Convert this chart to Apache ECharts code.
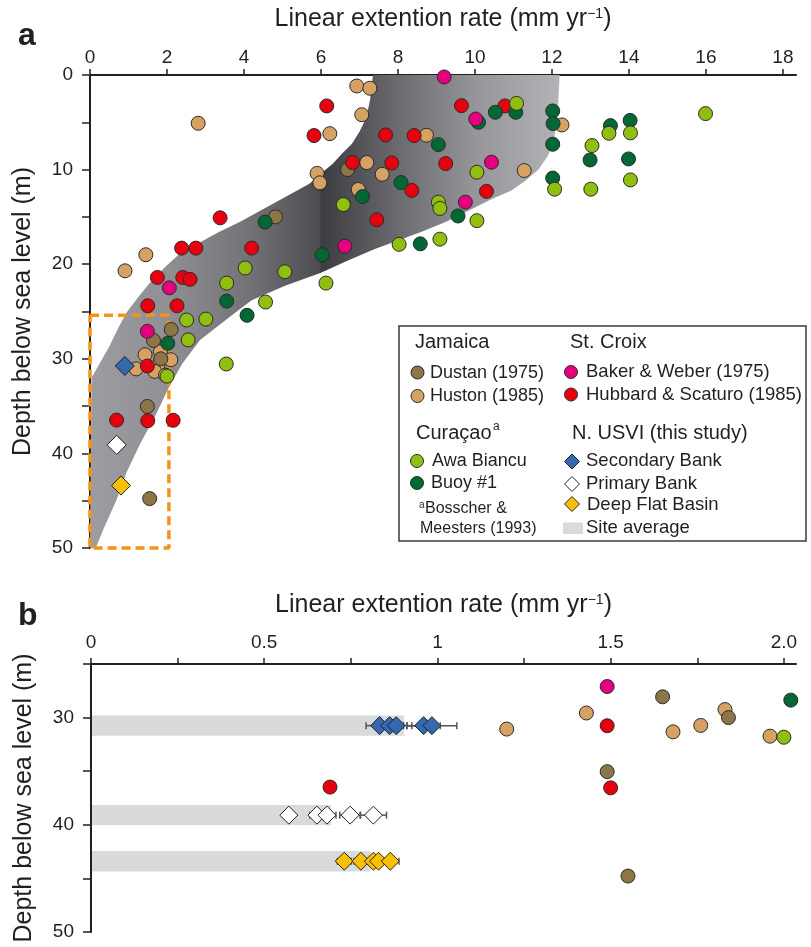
<!DOCTYPE html>
<html>
<head>
<meta charset="utf-8">
<title>Linear extension rate vs depth</title>
<script src="https://cdn.jsdelivr.net/npm/echarts@6/dist/echarts.min.js"></script>
<style>
  html, body { margin: 0; padding: 0; background: #fff; }
  #main { width: 811px; height: 947px; }
</style>
</head>
<body>
<div id="main"></div>
<script>
// ---- data: [linear extension (mm/yr), depth (m)] ----
var dustan = [[6.69,10.0],[4.82,15.0],[2.11,26.9],[1.65,28.06],[1.84,30.0],[1.49,35.04],[1.55,44.78]];
var huston = [[6.93,1.16],[7.27,1.4],[2.81,5.1],[7.06,4.2],[6.23,6.2],[7.19,9.26],[5.9,10.4],[5.97,11.4],
  [7.59,10.5],[6.97,12.1],[1.45,19.0],[0.91,20.7],[12.26,5.28],[8.74,6.37],[11.28,10.1],[1.43,29.57],
  [1.83,29.25],[2.1,30.1],[1.76,30.73],[1.68,31.33],[1.2,31.07],[1.96,31.73]];
var baker = [[9.2,0.21],[10.02,4.65],[10.43,9.22],[9.75,13.44],[6.62,18.1],[2.06,22.5],[1.49,27.1]];
var hubbard = [[6.15,3.27],[9.65,3.24],[10.78,3.27],[5.82,6.4],[7.68,6.34],[8.42,6.4],[6.82,9.26],[7.84,9.3],
  [9.24,9.36],[8.36,12.2],[10.3,12.3],[3.38,15.1],[7.45,15.3],[2.38,18.3],[2.75,18.3],[4.2,18.3],[1.75,21.4],
  [2.41,21.4],[2.6,21.6],[1.5,24.4],[2.26,24.4],[1.49,30.76],[0.69,36.48],[1.5,36.55],[2.16,36.5]];
var awa = [[11.08,3.0],[15.99,4.08],[14.04,6.12],[13.48,6.16],[13.04,7.46],[10.05,10.28],[14.04,11.09],
  [12.07,12.07],[13.01,12.07],[9.05,13.44],[6.58,13.7],[9.09,14.1],[10.05,15.4],[9.09,17.35],[8.03,17.9],
  [4.03,20.4],[5.06,20.8],[3.55,22.0],[6.13,22.0],[4.56,24.0],[3.01,25.8],[2.51,25.9],[2.55,28.0],
  [3.54,30.55],[2.0,31.83]];
var buoy = [[12.02,3.8],[10.53,3.94],[11.06,3.94],[14.03,4.8],[10.09,5.0],[12.03,5.14],[13.52,5.35],
  [12.02,7.32],[9.05,7.36],[13.99,8.87],[12.99,8.98],[12.02,10.9],[8.08,11.37],[7.08,12.85],[9.56,14.9],
  [4.55,15.55],[8.58,17.85],[6.03,19.0],[3.55,23.9],[4.08,25.4],[2.02,28.37]];

// N. USVI sites: secondary bank, primary bank, deep flat basin
var siteAvg = [0.904, 0.693, 0.806];
var siteDepth = [30.75, 39.1, 43.4];
var secondaryX = [0.833, 0.862, 0.881, 0.96, 0.984];
var secondaryErr = [0.039, 0.04, 0.045, 0.048, 0.072];
var primaryX = [0.571, 0.652, 0.681, 0.748, 0.815];
var primaryErr = [0.01, 0.02, 0.026, 0.03, 0.038];
var deepX = [0.731, 0.779, 0.815, 0.83, 0.864];
var deepErr = [0.02, 0.02, 0.025, 0.03, 0.025];

// grey envelope of previous studies
var bandRightDepth = [0, 4, 7, 8.5, 10, 11.2, 12.2, 13.2, 14.5, 15.5, 16.6, 17.5, 18.4, 19.6, 20.9, 22.3, 23.8, 25.5, 28, 30.5, 33, 36, 39, 42, 45, 48, 50];
var bandRightX = [12.2, 12.15, 12.05, 11.9, 11.65, 11.3, 10.95, 10.4, 9.75, 9.25, 8.6, 8.0, 7.4, 6.7, 6.0, 5.05, 4.2, 3.65, 2.86, 2.4, 2.05, 1.7, 1.3, 0.95, 0.68, 0.35, 0.15];
var bandLeftDepth = [0, 2.5, 4.5, 6, 7.3, 8.3, 9.4, 10.4, 11.5, 12.5, 13.5, 14.5, 15.5, 16.6, 17.8, 19, 20.3, 22, 23.5, 25.1, 26.6, 28.7, 30.5, 32, 50];
var bandLeftX = [7.35, 7.28, 7.18, 7.0, 6.8, 6.55, 6.3, 6.0, 5.7, 5.25, 4.8, 4.35, 3.9, 3.35, 2.8, 2.3, 1.95, 1.55, 1.25, 0.95, 0.75, 0.5, 0.25, 0.04, 0];

// dashed box = extent of panel b
var zoomBoxX = [0, 2.05];
var zoomBoxDepth = [25.4, 50];

// ticks
var xTicksA = [0, 2, 4, 6, 8, 10, 12, 14, 16, 18];
var yTicksA = [0, 5, 10, 15, 20, 25, 30, 35, 40, 45, 50];
var yLabelsA = [0, 10, 20, 30, 40, 50];
var xTicksB = [0, 0.25, 0.5, 0.75, 1, 1.25, 1.5, 1.75, 2];
var xLabelsB = [0, 0.5, 1, 1.5, 2];
var yTicksB = [25, 30, 35, 40, 45, 50];
var yLabelsB = [30, 40, 50];

var FONT = '"Liberation Sans", Arial, Helvetica, sans-serif';
var INK = '#231f20';
var C = {
  dustan: '#8c7547', huston: '#d5a263', baker: '#e5007f', hubbard: '#e8000f',
  awa: '#91bf0f', buoy: '#006834', secondary: '#3667b1', primary: '#ffffff', deep: '#fac000', avg: '#d9dadb'
};

var chart = echarts.init(document.getElementById('main'));

function axisX(idx, max, ticks, labels, gap, margin, fmt) {
  return {
    type: 'value', gridIndex: idx, position: 'top', min: 0, max: max,
    name: 'Linear extention rate (mm yr{sup|\u22121})', nameLocation: 'middle', nameGap: gap,
    nameTextStyle: { color: INK, fontSize: 25, fontFamily: FONT,
      rich: { sup: { fontSize: 14, verticalAlign: 'top', color: INK, fontFamily: FONT } } },
    axisLine: { show: true, lineStyle: { color: INK, width: 2 } },
    axisTick: { show: true, length: 6, customValues: ticks, lineStyle: { color: INK, width: 1.5 } },
    axisLabel: { customValues: labels, margin: margin, color: INK, fontSize: 19, fontFamily: FONT, formatter: fmt },
    splitLine: { show: false }
  };
}
function axisY(idx, min, ticks, labels) {
  return {
    type: 'value', gridIndex: idx, inverse: true, min: min, max: 50,
    name: 'Depth below sea level (m)', nameLocation: 'middle', nameGap: 54,
    nameTextStyle: { color: INK, fontSize: 25, fontFamily: FONT },
    axisLine: { show: true, lineStyle: { color: INK, width: 2 } },
    axisTick: { show: true, length: 8, customValues: ticks, lineStyle: { color: INK, width: 1.5 } },
    axisLabel: { customValues: labels, margin: 17, color: INK, fontSize: 19, fontFamily: FONT },
    splitLine: { show: false }
  };
}

function dots(name, data, color, gi) {
  return {
    name: name, type: 'scatter', xAxisIndex: gi, yAxisIndex: gi, data: data, symbolSize: 14, z: 5,
    itemStyle: { color: color, borderColor: '#2b2b2b', borderWidth: 1, opacity: 1 }
  };
}

function diamonds(data, color, gi, size) {
  return {
    type: 'scatter', xAxisIndex: gi, yAxisIndex: gi, data: data, symbol: 'diamond', symbolSize: size, z: 7,
    itemStyle: { color: color, borderColor: '#222', borderWidth: 1, opacity: 1 }
  };
}

function colonyData(xs, errs, depth) {
  return xs.map(function (x, i) { return [x, depth, errs[i]]; });
}

function errorBars(data) {
  return {
    type: 'custom', xAxisIndex: 1, yAxisIndex: 1, data: data, z: 6, silent: true,
    renderItem: function (params, api) {
      var x = api.value(0), d = api.value(1), e = api.value(2);
      var p0 = api.coord([x - e, d]), p1 = api.coord([x + e, d]);
      var st = { stroke: '#555', lineWidth: 1.5 };
      return { type: 'group', children: [
        { type: 'line', shape: { x1: p0[0], y1: p0[1], x2: p1[0], y2: p1[1] }, style: st },
        { type: 'line', shape: { x1: p0[0], y1: p0[1] - 3.5, x2: p0[0], y2: p0[1] + 3.5 }, style: st },
        { type: 'line', shape: { x1: p1[0], y1: p1[1] - 3.5, x2: p1[0], y2: p1[1] + 3.5 }, style: st }
      ] };
    }
  };
}

var avgHalf = 0.95;
var siteAvgSeries = {
  type: 'custom', xAxisIndex: 1, yAxisIndex: 1, z: 2, silent: true,
  data: siteAvg.map(function (v, i) { return [v, siteDepth[i]]; }),
  renderItem: function (params, api) {
    var p0 = api.coord([0, api.value(1) - avgHalf]);
    var p1 = api.coord([api.value(0), api.value(1) + avgHalf]);
    return { type: 'rect', shape: { x: p0[0] + 1, y: p0[1], width: p1[0] - p0[0] - 1, height: p1[1] - p0[1] },
      style: { fill: C.avg } };
  }
};

var bandSeries = {
  type: 'custom', xAxisIndex: 0, yAxisIndex: 0, z: 1, silent: true, data: [[0, 0]],
  renderItem: function (params, api) {
    var pts = [];
    for (var i = 0; i < bandRightDepth.length; i++) pts.push(api.coord([bandRightX[i], bandRightDepth[i]]));
    for (var j = bandLeftDepth.length - 1; j >= 0; j--) pts.push(api.coord([bandLeftX[j], bandLeftDepth[j]]));
    var x0 = api.coord([0, 0])[0], x1 = api.coord([12.2, 0])[0];
    var grad = new echarts.graphic.LinearGradient(x0, 0, x1, 0, [
      { offset: 0, color: '#9d9da1' }, { offset: 0.164, color: '#909094' },
      { offset: 0.344, color: '#717176' }, { offset: 0.488, color: '#4c4c51' },
      { offset: 0.493, color: '#3c3c41' }, { offset: 0.656, color: '#6a6a6f' },
      { offset: 0.82, color: '#96969a' }, { offset: 1, color: '#b3b3b7' }
    ], true);
    return { type: 'polygon', shape: { points: pts }, style: { fill: grad } };
  }
};

var boxSeries = {
  type: 'line', xAxisIndex: 0, yAxisIndex: 0, z: 4, symbol: 'none', clip: false, silent: true,
  data: [[zoomBoxX[0], zoomBoxDepth[0]], [zoomBoxX[1], zoomBoxDepth[0]], [zoomBoxX[1], zoomBoxDepth[1]],
         [zoomBoxX[0], zoomBoxDepth[1]], [zoomBoxX[0], zoomBoxDepth[0]]],
  lineStyle: { color: '#f39319', width: 3.5, type: [9, 5] }
};

// ---- legend (drawn as graphics) ----
var LX = 399, LY = 326;
function txt(x, y, s, size) {
  var st = { text: s, x: x, y: y, fill: INK, font: size + 'px ' + FONT, verticalAlign: 'middle', align: 'left' };
  return { type: 'text', style: st, z: 101 };
}
function dot(x, y, color) {
  return { type: 'circle', shape: { cx: x, cy: y, r: 6.5 }, style: { fill: color, stroke: '#2b2b2b', lineWidth: 1 }, z: 101 };
}
function dia(x, y, color) {
  var h = 7.5;
  return { type: 'polygon', shape: { points: [[x, y - h], [x + h, y], [x, y + h], [x - h, y]] },
    style: { fill: color, stroke: '#222', lineWidth: 1 }, z: 101 };
}
var legend = [
  { type: 'rect', shape: { x: LX, y: LY, width: 407, height: 215 }, style: { fill: '#fff', stroke: '#3a3a3a', lineWidth: 1.5 }, z: 100 },
  txt(415, 342, 'Jamaica', 20), txt(570, 342, 'St. Croix', 20),
  dot(417.5, 372.5, C.dustan), txt(430, 373, 'Dustan (1975)', 18),
  dot(417.5, 396, C.huston), txt(430, 396, 'Huston (1985)', 18),
  dot(571, 372, C.baker), txt(586, 372, 'Baker & Weber (1975)', 18.5),
  dot(571, 394.5, C.hubbard), txt(586, 395, 'Hubbard & Scaturo (1985)', 18.5),
  txt(416, 433, 'Curaçao', 20), txt(493, 427, 'a', 12),
  txt(572, 433, 'N. USVI (this study)', 20),
  dot(417, 461, C.awa), txt(432, 461, 'Awa Biancu', 18),
  dot(417, 483, C.buoy), txt(431, 483, 'Buoy #1', 18),
  txt(419, 505, 'a', 10), txt(425, 509, 'Bosscher &', 16),
  txt(420, 529, 'Meesters (1993)', 16),
  dia(572, 461.5, C.secondary), txt(586, 461, 'Secondary Bank', 18.5),
  dia(572, 484, C.primary), txt(586, 484, 'Primary Bank', 18.5),
  dia(572, 504, C.deep), txt(587, 505, 'Deep Flat Basin', 18.5),
  { type: 'rect', shape: { x: 563, y: 522.5, width: 20, height: 11.5 }, style: { fill: C.avg }, z: 101 },
  txt(586, 528, 'Site average', 18.5),
  { type: 'text', style: { text: 'a', x: 18, y: 36, fill: INK, font: 'bold 32px ' + FONT, verticalAlign: 'middle' }, z: 101 },
  { type: 'text', style: { text: 'b', x: 18, y: 616, fill: INK, font: 'bold 32px ' + FONT, verticalAlign: 'middle' }, z: 101 }
];

var option = {
  animation: false,
  backgroundColor: '#fff',
  textStyle: { fontFamily: FONT },
  grid: [
    { left: 90, right: 15, top: 75, bottom: 399 },
    { left: 91, right: 15, top: 664, bottom: 15 }
  ],
  xAxis: [
    axisX(0, 18.34, xTicksA, xTicksA, 43, 8),
    axisX(1, 2.035, xTicksB, xLabelsB, 46, 12, function (v) { return v === 2 ? '2.0' : String(v); })
  ],
  yAxis: [axisY(0, 0, yTicksA, yLabelsA), axisY(1, 25, yTicksB, yLabelsB)],
  graphic: legend,
  series: [
    bandSeries,
    boxSeries,
    dots('Huston (1985)', huston, C.huston, 0),
    dots('Dustan (1975)', dustan, C.dustan, 0),
    dots('Hubbard & Scaturo (1985)', hubbard, C.hubbard, 0),
    dots('Buoy #1', buoy, C.buoy, 0),
    dots('Awa Biancu', awa, C.awa, 0),
    dots('Baker & Weber (1975)', baker, C.baker, 0),
    diamonds([[siteAvg[0], siteDepth[0]]], C.secondary, 0, 19),
    diamonds([[siteAvg[1], siteDepth[1]]], C.primary, 0, 19),
    diamonds([[siteAvg[2], siteDepth[2]]], C.deep, 0, 19),

    siteAvgSeries,
    dots('Huston (1985)', huston, C.huston, 1),
    dots('Dustan (1975)', dustan, C.dustan, 1),
    dots('Hubbard & Scaturo (1985)', hubbard, C.hubbard, 1),
    dots('Buoy #1', buoy, C.buoy, 1),
    dots('Awa Biancu', awa, C.awa, 1),
    dots('Baker & Weber (1975)', baker, C.baker, 1),
    errorBars(colonyData(secondaryX, secondaryErr, siteDepth[0])),
    errorBars(colonyData(primaryX, primaryErr, siteDepth[1])),
    errorBars(colonyData(deepX, deepErr, siteDepth[2])),
    diamonds(colonyData(secondaryX, secondaryErr, siteDepth[0]), C.secondary, 1, 18),
    diamonds(colonyData(primaryX, primaryErr, siteDepth[1]), C.primary, 1, 18),
    diamonds(colonyData(deepX, deepErr, siteDepth[2]), C.deep, 1, 18)
  ]
};
chart.setOption(option);
</script>
</body>
</html>
